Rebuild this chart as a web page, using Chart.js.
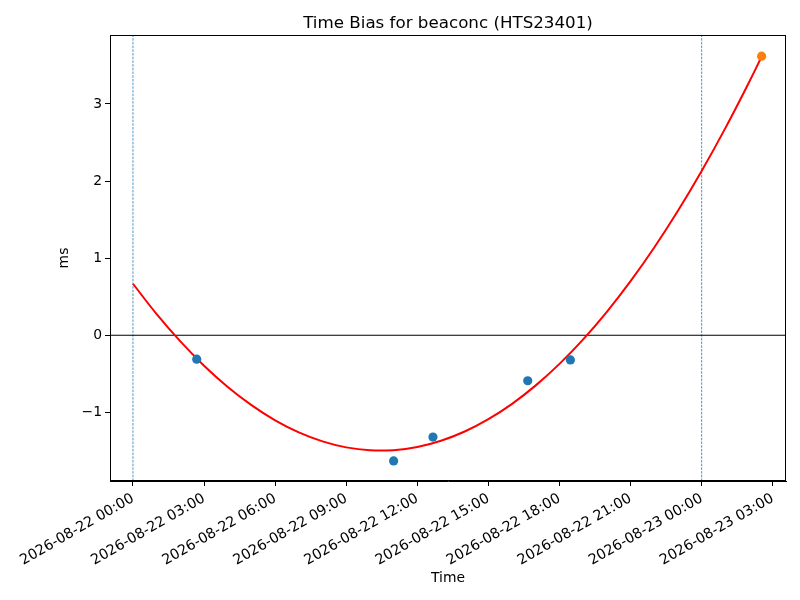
<!DOCTYPE html>
<html>
<head>
<meta charset="utf-8">
<script src="https://cdn.jsdelivr.net/npm/chart.js@4.4.0/dist/chart.umd.min.js"></script>
<style>
  html, body { margin: 0; padding: 0; background: #fff; }
  #wrap { width: 800px; height: 600px; }
</style>
</head>
<body>
<div id="wrap"><canvas id="biasChart" width="800" height="600"></canvas></div>
<script>
// hours after 2026-08-22 00:00
const measHours = [2.69, 11.0, 12.66, 16.66, 18.46];
const measBias = [-0.31, -1.63, -1.32, -0.59, -0.32];
const latestHour = [26.53];
const latestBias = [3.62];

// fitted curve
const fitHours = [0, 1, 2, 3, 4, 5, 6, 7, 8, 9, 10, 11, 12, 13, 14, 15, 16, 17, 18, 19, 20, 21, 22, 23, 24, 25, 26, 26.53];
const fitBias = [0.668, 0.274, -0.080, -0.395, -0.671, -0.906, -1.103, -1.259, -1.376, -1.454, -1.492, -1.490, -1.449,
  -1.368, -1.248, -1.088, -0.889, -0.650, -0.371, -0.053, 0.304, 0.701, 1.138, 1.614, 2.130, 2.686, 3.281, 3.612];

const dayMarks = [0, 24];

const xTickHours = [0, 3, 6, 9, 12, 15, 18, 21, 24, 27];
const xTickLabels = ['2026-08-22 00:00', '2026-08-22 03:00', '2026-08-22 06:00', '2026-08-22 09:00', '2026-08-22 12:00',
  '2026-08-22 15:00', '2026-08-22 18:00', '2026-08-22 21:00', '2026-08-23 00:00', '2026-08-23 03:00'];
const yTicks = [-1, 0, 1, 2, 3];

const xMin = -0.97, xMax = 27.56;
const yMin = -1.89, yMax = 3.894;

const FONT = 'DejaVu Sans';

// datasets for the vertical day lines
const dayLineSets = dayMarks.map(h => ({
  type: 'line',
  data: [{x: h, y: yMin}, {x: h, y: yMax}],
  borderColor: '#1f77b4',
  borderWidth: 0.8,
  borderDash: [2.5, 1.2],
  pointRadius: 0,
  order: 5
}));

const frameAndTitle = {
  id: 'frameAndTitle',
  afterDraw(chart) {
    const {ctx, chartArea: a} = chart;
    ctx.save();
    ctx.strokeStyle = '#000';
    ctx.lineWidth = 1;
    ctx.strokeRect(a.left + 0.5, a.top + 0.5, a.right - a.left - 1, a.bottom - a.top - 1);
    ctx.fillStyle = '#000';
    ctx.font = '16.7px "' + FONT + '"';
    ctx.textAlign = 'center';
    ctx.textBaseline = 'alphabetic';
    ctx.fillText('Time Bias for beaconc (HTS23401)', (a.left + a.right) / 2, 28);
    ctx.restore();
  }
};

new Chart(document.getElementById('biasChart'), {
  type: 'scatter',
  data: {
    datasets: [
      {
        data: measHours.map((h, i) => ({x: h, y: measBias[i]})),
        backgroundColor: '#1f77b4',
        borderWidth: 0,
        pointRadius: 4.6,
        order: 1
      },
      {
        data: latestHour.map((h, i) => ({x: h, y: latestBias[i]})),
        backgroundColor: '#ff7f0e',
        borderWidth: 0,
        pointRadius: 4.6,
        order: 0
      },
      {
        type: 'line',
        data: fitHours.map((h, i) => ({x: h, y: fitBias[i]})),
        borderColor: '#ff0000',
        borderWidth: 2,
        pointRadius: 0,
        tension: 0.4,
        order: 2
      },
      {
        type: 'line',
        data: [{x: xMin, y: 0}, {x: xMax, y: 0}],
        borderColor: '#000',
        borderWidth: 1,
        pointRadius: 0,
        order: 4
      },
      ...dayLineSets
    ]
  },
  options: {
    responsive: false,
    animation: false,
    devicePixelRatio: 1,
    layout: { padding: { top: 35, right: 14, left: 0, bottom: 0 } },
    plugins: {
      legend: { display: false },
      title: { display: false },
      tooltip: { enabled: false }
    },
    scales: {
      x: {
        type: 'linear',
        min: xMin,
        max: xMax,
        afterBuildTicks: s => { s.ticks = xTickHours.map(v => ({value: v})); },
        afterFit: s => { s.height = 119; },
        grid: { drawOnChartArea: false, drawTicks: true, tickLength: 5, color: '#000', tickWidth: 1 },
        border: { display: true, color: '#000', width: 1 },
        ticks: {
          autoSkip: false,
          maxRotation: 30,
          minRotation: 30,
          padding: 4,
          color: '#000',
          font: { family: FONT, size: 14.3 },
          callback: v => {
            const i = xTickHours.indexOf(v);
            return i >= 0 ? xTickLabels[i] : '';
          }
        },
        title: {
          display: true,
          text: 'Time',
          color: '#000',
          font: { family: FONT, size: 13.9 },
          padding: { top: 0, bottom: 13 }
        }
      },
      y: {
        type: 'linear',
        min: yMin,
        max: yMax,
        afterBuildTicks: s => { s.ticks = yTicks.map(v => ({value: v})); },
        afterFit: s => { s.width = 110; },
        grid: { drawOnChartArea: false, drawTicks: true, tickLength: 5, color: '#000', tickWidth: 1 },
        border: { display: true, color: '#000', width: 1 },
        ticks: {
          padding: 3,
          color: '#000',
          font: { family: FONT, size: 13.9 },
          callback: v => (v < 0 ? '\u2212' + Math.abs(v) : String(v))
        },
        title: {
          display: true,
          text: 'ms',
          color: '#000',
          font: { family: FONT, size: 13.9 },
          padding: { top: 56, bottom: 0 }
        }
      }
    }
  },
  plugins: [frameAndTitle]
});
</script>
</body>
</html>
